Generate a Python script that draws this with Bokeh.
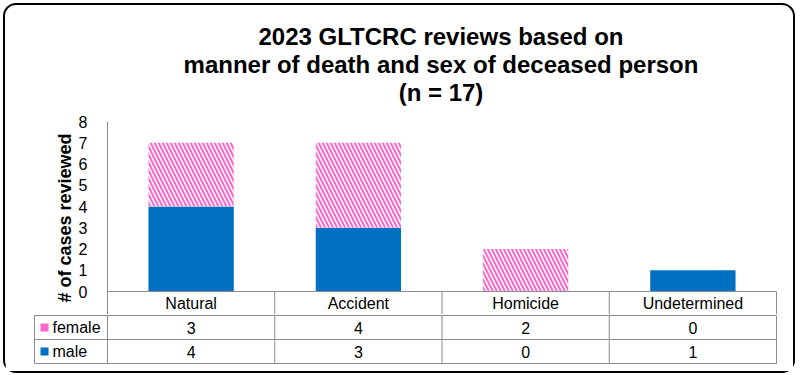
import numpy as np
from bokeh.plotting import figure
from bokeh.models import Range1d, FixedTicker, Div
from bokeh.layouts import column
from bokeh.embed import file_html
from bokeh.resources import INLINE
from bokeh.core.properties import value

# ---- data ----
categories = ["Natural", "Accident", "Homicide", "Undetermined"]
female = [3, 4, 2, 0]
male = [4, 3, 0, 1]
series_names = ["female", "male"]
y_ticks = [0, 1, 2, 3, 4, 5, 6, 7, 8]
title_lines = ["2023 GLTCRC reviews based on",
               "manner of death and sex of deceased person",
               "(n = 17)"]
y_label = "# of cases reviewed"

BLUE = "#0070C0"
PINK = "#FF66CC"
LINE = "#8c8c8c"
FONT = "Liberation Sans"

n = len(categories)
xc = np.arange(n) + 0.5
male_arr = np.array(male)
female_arr = np.array(female)

W = 788
PX_X = 167.25          # pixels per category
PX_Y = 21.25           # pixels per case
ROW = 24.0             # table row height in pixels
L = 73 / PX_X          # legend column width in category units
x_end = n + 2 / PX_X

# ---- title ----
title = Div(text=('<div style="width:704px;margin-left:84px;padding-top:18px;text-align:center;'
                  'font-family:\'Liberation Sans\';font-weight:bold;font-size:24px;'
                  'line-height:28px;color:black;">' + "<br>".join(title_lines) + '</div>'),
            width=W, height=100, margin=0)

# ---- chart (with the category row of the data table) ----
cat_row = ROW / PX_Y
pA = figure(width=W, height=209, x_range=Range1d(0, x_end),
            y_range=Range1d(-(ROW - 1) / PX_Y, max(y_ticks)),
            output_backend="svg", toolbar_location=None, x_axis_location=None,
            min_border_left=102, min_border_right=15, min_border_bottom=0, min_border_top=16)
pA.outline_line_color = None
pA.grid.visible = False
pA.title.visible = False

ax = pA.yaxis[0]
ax.ticker = FixedTicker(ticks=y_ticks)
ax.axis_line_color = LINE
ax.major_tick_line_color = None
ax.minor_tick_line_color = None
ax.major_label_standoff = 14
ax.major_label_text_font = FONT
ax.major_label_text_font_size = "16px"
ax.major_label_text_color = "black"
ax.axis_label = y_label
ax.axis_label_text_font = FONT
ax.axis_label_text_font_size = "18px"
ax.axis_label_text_font_style = "bold"
ax.axis_label_text_color = "black"
ax.axis_label_standoff = 1

pA.vbar(x=xc, width=0.51, bottom=0, top=male_arr, fill_color=BLUE, line_color=None)
pA.vbar(x=xc, width=0.51, bottom=male_arr, top=male_arr + female_arr,
        fill_color="white", line_color=None, hatch_pattern="\\",
        hatch_color=PINK, hatch_weight=2, hatch_scale=8)

pA.segment(x0=[0], y0=[0], x1=[n], y1=[0], line_color=LINE, line_width=1)
cx = list(range(1, n + 1))
pA.segment(x0=cx, y0=[0] * n, x1=cx, y1=[-cat_row - 1] * n, line_color=LINE, line_width=1)
pA.text(x=xc, y=[-cat_row / 2] * n, text=categories, text_align="center", text_baseline="middle",
        text_font=value(FONT), text_font_size="16px", text_color="black")

# ---- data table rows ----
rows = len(series_names)
pB = figure(width=W, height=57, x_range=Range1d(x_end - 745 / PX_X, x_end),
            y_range=Range1d(-3 / ROW, rows + 1 / ROW),
            output_backend="svg", toolbar_location=None,
            x_axis_location=None, y_axis_location=None,
            min_border_left=28, min_border_right=15, min_border_top=0, min_border_bottom=5)
pB.outline_line_color = None
pB.grid.visible = False

hy = list(range(rows, -1, -1))
pB.segment(x0=[-L] * len(hy), y0=hy, x1=[n] * len(hy), y1=hy, line_color=LINE, line_width=1)
vx = [-L] + list(range(n + 1))
pB.segment(x0=vx, y0=[0] * len(vx), x1=vx, y1=[rows] * len(vx), line_color=LINE, line_width=1)

pB.text(x=xc, y=[1.5] * n, text=[str(v) for v in female], text_align="center",
        text_baseline="middle", text_font=value(FONT), text_font_size="16px", text_color="black")
pB.text(x=xc, y=[0.5] * n, text=[str(v) for v in male], text_align="center",
        text_baseline="middle", text_font=value(FONT), text_font_size="16px", text_color="black")

pB.scatter(x=[-L + 10 / PX_X] * 2, y=[1.5, 0.5], marker="square", size=8,
           fill_color=[PINK, BLUE], line_color=None)
pB.text(x=[-L + 18 / PX_X] * 2, y=[1.5, 0.5], text=series_names, text_align="left",
        text_baseline="middle", text_font=value(FONT), text_font_size="16px", text_color="black")

layout = column(title, column(pA), column(pB), spacing=0,
                styles={"border": "2px solid black", "border-radius": "13px",
                        "background-color": "white", "margin": "3px 0 0 3px"})

open("out.html", "w").write(file_html(layout, INLINE))
